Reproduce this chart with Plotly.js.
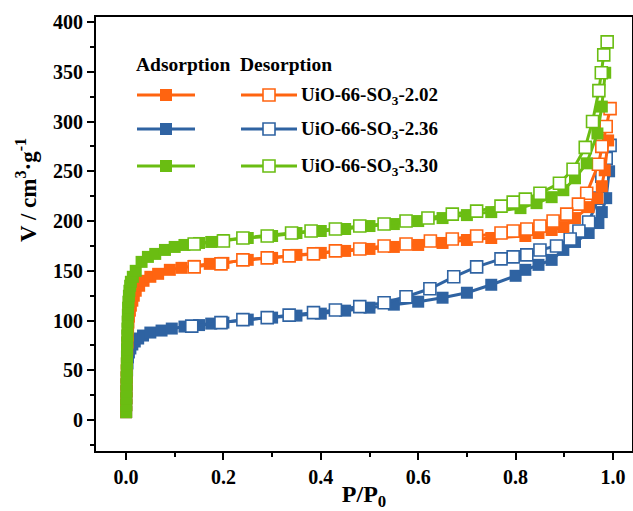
<!DOCTYPE html>
<html>
<head>
<meta charset="utf-8">
<script src="https://cdn.plot.ly/plotly-3.0.1.min.js"></script>
<style>html,body{margin:0;padding:0;background:#fff;}#chart{width:633px;height:511px;}</style>
</head>
<body>
<div id="chart"></div>
<script>
// ---- data ----
const seriesNames = ["UiO-66-SO<sub>3</sub>-2.02", "UiO-66-SO<sub>3</sub>-2.36", "UiO-66-SO<sub>3</sub>-3.30"];
const seriesColors = ["#FF6410", "#2F63A2", "#6ABD12"];

// UiO-66-SO3-2.02
const adsP_202 = [0.0003,0.0005,0.0007,0.0009,0.0011,0.0013,0.0015,0.0018,0.0021,0.0025,0.003,0.0036,0.0043,0.005,0.006,0.008,0.01,0.013,0.016,0.02,0.027,0.036,0.05,0.066,0.09,0.114,0.14,0.172,0.2,0.25,0.3,0.35,0.4,0.45,0.5,0.55,0.6,0.65,0.7,0.75,0.82,0.847,0.874,0.898,0.922,0.95,0.968,0.977,0.983,0.99];
const adsV_202 = [8,15,22,29,36,43,50,57,64,71,78,85,92,98,104,110,115,120,125,130,135,140,144,147,151,153,155,157,158,161,163,166,168,170,172,174,176,178,181,183,185,188,191,194,203,214,223,235,251,281];
const desP_202 = [0.994,0.986,0.977,0.97,0.946,0.929,0.905,0.877,0.85,0.823,0.795,0.77,0.72,0.67,0.625,0.575,0.53,0.48,0.43,0.385,0.335,0.29,0.24,0.195,0.14];
const desV_202 = [313,295,275,257,228,217,207,200,195,192,190,188,185,182,180,177,175,172,170,167,165,163,161,157,154];

// UiO-66-SO3-2.36
const adsP_236 = [0.0003,0.0005,0.0008,0.0011,0.0014,0.0018,0.0023,0.003,0.004,0.006,0.009,0.013,0.018,0.025,0.035,0.05,0.073,0.094,0.12,0.15,0.175,0.2,0.25,0.3,0.35,0.4,0.45,0.5,0.55,0.6,0.65,0.7,0.75,0.8,0.82,0.847,0.874,0.898,0.922,0.95,0.97,0.977,0.986,0.992];
const adsV_236 = [8,15,22,29,36,43,50,57,63,68,72,76,79,82,85,88,90,92,94,95.5,97,98,101,103,105,107,110,113,116,119,123,128,136,145,151,156,161,171,179,188,198,209,223,250];
const desP_236 = [0.994,0.986,0.977,0.97,0.95,0.93,0.912,0.884,0.85,0.823,0.795,0.77,0.72,0.673,0.624,0.575,0.53,0.48,0.43,0.385,0.335,0.29,0.24,0.195,0.135];
const desV_236 = [276,263,245,223,199,190,182,175,171,166,164,162,154,144,132,124,118,114,110.6,108,105.5,103,101,98,94.5];

// UiO-66-SO3-3.30
const adsP_330 = [0.0003,0.0005,0.0007,0.0009,0.0011,0.0013,0.0015,0.0017,0.0019,0.0021,0.0024,0.0027,0.003,0.0034,0.0038,0.0043,0.005,0.006,0.007,0.0085,0.01,0.014,0.02,0.032,0.045,0.06,0.08,0.1,0.12,0.15,0.175,0.2,0.25,0.3,0.35,0.4,0.45,0.5,0.55,0.6,0.65,0.7,0.75,0.81,0.843,0.874,0.898,0.922,0.946,0.968,0.977,0.984];
const adsV_330 = [8,15,22,29,36,43,50,57,64,71,78,85,92,99,106,113,119,125,130,135,139,144,150,159,164,167,171,174,176,178,179,181,183,185,188,190,192,195,197,200,203,206,209,213,218,224,231,243,258,288,315,349];
const desP_330 = [0.988,0.981,0.976,0.971,0.958,0.943,0.918,0.89,0.85,0.82,0.795,0.77,0.72,0.67,0.62,0.575,0.53,0.48,0.43,0.38,0.34,0.29,0.24,0.2,0.14];
const desV_330 = [380,367,349,331,300,274,252,238,228,222,219,215,210,207,203,200,197,195,192,190,188,185,183,180,177];

const xTickVals = [0,0.2,0.4,0.6,0.8,1.0];
const xTickText = ["0.0","0.2","0.4","0.6","0.8","1.0"];
const yTickVals = [0,50,100,150,200,250,300,350,400];
const yTickText = ["0","50","100","150","200","250","300","350","400"];
const xTitle = "P/P<sub>0</sub>";
const yTitle = "V / cm<sup>3</sup>·g<sup>-1</sup>";

// ---- traces ----
const sets = [
  {ads:[adsP_236,adsV_236], des:[desP_236,desV_236], c:1},
  {ads:[adsP_202,adsV_202], des:[desP_202,desV_202], c:0},
  {ads:[adsP_330,adsV_330], des:[desP_330,desV_330], c:2}
];
const traces = [];
sets.forEach(s => {
  const col = seriesColors[s.c];
  traces.push({x:s.ads[0], y:s.ads[1], type:'scatter', mode:'lines+markers',
    line:{color:col, width:3}, marker:{symbol:'square', size:12, color:col},
    showlegend:false, name:seriesNames[s.c]+' ads'});
  traces.push({x:s.des[0], y:s.des[1], type:'scatter', mode:'lines+markers',
    line:{color:col, width:3}, marker:{symbol:'square', size:12, color:'#ffffff', line:{color:col, width:1.6}},
    showlegend:false, name:seriesNames[s.c]+' des'});
});

// ---- legend (drawn with shapes / annotations in paper space) ----
const L = 96, R = 632, T = 17, B = 451;
const px = x => (x - L) / (R - L);
const py = y => (B - y) / (B - T);
const shapes = [], annotations = [];
const rowsY = [95, 129, 166];
const fontFam = '"Liberation Serif", "Times New Roman", serif';
[0,1,2].forEach((i) => {
  const y = rowsY[i], col = seriesColors[i];
  shapes.push({type:'line', xref:'paper', yref:'paper', x0:px(137), x1:px(195), y0:py(y), y1:py(y), line:{color:col, width:3}});
  shapes.push({type:'rect', xref:'paper', yref:'paper', x0:px(160), x1:px(172), y0:py(y+6), y1:py(y-6), fillcolor:col, line:{width:0}});
  shapes.push({type:'line', xref:'paper', yref:'paper', x0:px(241), x1:px(297), y0:py(y), y1:py(y), line:{color:col, width:3}});
  shapes.push({type:'rect', xref:'paper', yref:'paper', x0:px(263), x1:px(275), y0:py(y+6), y1:py(y-6), fillcolor:'#ffffff', line:{color:col, width:1.6}});
  annotations.push({xref:'paper', yref:'paper', x:px(299), y:py(y+1), xanchor:'left', yanchor:'middle', showarrow:false,
    text:'<b>'+seriesNames[i]+'</b>', font:{family:fontFam, size:19, color:'#000'}});
});
annotations.push({xref:'paper', yref:'paper', x:px(134), y:py(65), xanchor:'left', yanchor:'middle', showarrow:false,
  text:'<b>Adsorption</b>', font:{family:fontFam, size:19.5, color:'#000'}});
annotations.push({xref:'paper', yref:'paper', x:px(238), y:py(65), xanchor:'left', yanchor:'middle', showarrow:false,
  text:'<b>Desorption</b>', font:{family:fontFam, size:19.5, color:'#000'}});
// y-axis title placed as rotated annotation
annotations.push({xref:'paper', yref:'paper', x:px(26), y:py(190), xanchor:'center', yanchor:'middle', showarrow:false,
  textangle:-90, text:'<b>'+yTitle+'</b>', font:{family:fontFam, size:23, color:'#000'}});

const axisCommon = {
  showgrid:false, zeroline:false, showline:true, linecolor:'#000', linewidth:2, mirror:true,
  ticks:'outside', ticklen:7, tickwidth:2, tickcolor:'#000',
  tickfont:{family:fontFam, size:20, color:'#000', weight:'bold'}
};

const layout = {
  width:633, height:511,
  margin:{l:L, r:633-R, t:T, b:511-B, pad:0},
  paper_bgcolor:'#ffffff', plot_bgcolor:'#ffffff',
  showlegend:false,
  xaxis: Object.assign({}, axisCommon, {
    range:[-0.0616, 1.039], tickvals:xTickVals, ticktext:xTickText,
    minor:{dtick:0.1, ticks:'outside', ticklen:4, tickwidth:2, tickcolor:'#000'},
    title:{text:'<b>'+xTitle+'</b>', font:{family:fontFam, size:24, color:'#000'}, standoff:4}
  }),
  yaxis: Object.assign({}, axisCommon, {
    range:[-31, 405], tickvals:yTickVals, ticktext:yTickText,
    minor:{dtick:25, ticks:'outside', ticklen:4, tickwidth:2, tickcolor:'#000'}
  }),
  shapes: shapes,
  annotations: annotations
};

Plotly.newPlot('chart', traces, layout, {displayModeBar:false, staticPlot:true});
</script>
</body>
</html>
